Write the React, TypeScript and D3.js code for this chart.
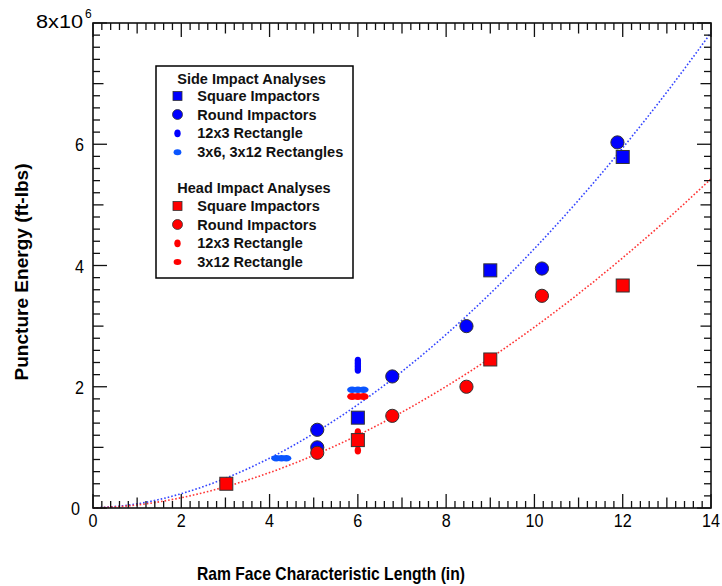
import React from "react";
import * as d3 from "d3";

// ---- Data (values in millions of ft-lbs) ----
const sideSquareX = [6, 9, 12];
const sideSquareY = [1.49, 3.92, 5.79];
const sideRoundX = [5.08, 5.08, 6.78, 8.46, 10.17, 11.88];
const sideRoundY = [1.29, 1.0, 2.17, 3.0, 3.95, 6.03];
const side12x3X = [6, 6, 6, 6];
const side12x3Y = [2.28, 2.33, 2.38, 2.43];
const side3x6X = [4.15, 4.27, 4.38, 5.87, 6.0, 6.13];
const side3x6Y = [0.82, 0.82, 0.82, 1.95, 1.95, 1.95];

const headSquareX = [3.02, 6, 9, 12];
const headSquareY = [0.4, 1.12, 2.45, 3.67];
const headRoundX = [5.08, 6.78, 8.46, 10.17];
const headRoundY = [0.91, 1.52, 2.0, 3.5];
const head12x3X = [6, 6, 6, 6];
const head12x3Y = [0.95, 1.05, 1.15, 1.25];
const head3x12X = [5.87, 6.0, 6.13];
const head3x12Y = [1.84, 1.84, 1.84];

// trend curves
const curveX = [0, 1, 2, 3, 4, 5, 6, 7, 8, 9, 10, 11, 12, 13, 14];
const sideCurveY = [0, 0.068, 0.236, 0.49, 0.822, 1.229, 1.706, 2.251, 2.863, 3.538, 4.278, 5.079, 5.94, 6.86, 7.84];
const headCurveY = [0, 0.05, 0.17, 0.35, 0.584, 0.869, 1.201, 1.581, 2.005, 2.473, 2.983, 3.534, 4.127, 4.758, 5.43];

const xTickLabels = [0, 2, 4, 6, 8, 10, 12, 14];
const yTickLabels = [0, 2, 4, 6];

const BLUE = "#0000ff";
const LBLUE = "#0a55ff";
const RED = "#ff0000";
const FONT = "Liberation Sans, Arial, sans-serif";

export default function App() {
  const left = 93, right = 711, top = 23, bottom = 508;
  const x = d3.scaleLinear().domain([0, 14]).range([left, right]);
  const y = d3.scaleLinear().domain([0, 8]).range([bottom, top]);

  const line = d3
    .line<number>()
    .x((_, i) => x(curveX[i]))
    .y((d) => y(d))
    .curve(d3.curveMonotoneX);

  const tickLen = (v: number) => {
    const r = Math.round(v * 10) / 10;
    if (Math.abs(r % 2) < 1e-6) return 14;
    if (Math.abs(r - Math.round(r)) < 1e-6) return 10.5;
    return 7;
  };

  const xt = x.ticks(70);
  const yt = y.ticks(40);
  const axisColor = "#111";

  const sq = (cx: number, cy: number, s: number, fill: string, key: string) => (
    <rect key={key} x={cx - s / 2} y={cy - s / 2} width={s} height={s} fill={fill} stroke="#333" strokeWidth={1} />
  );
  const circ = (cx: number, cy: number, r: number, fill: string, key: string) => (
    <circle key={key} cx={cx} cy={cy} r={r} fill={fill} stroke="#333" strokeWidth={1} />
  );
  const ell = (cx: number, cy: number, rx: number, ry: number, fill: string, key: string) => (
    <ellipse key={key} cx={cx} cy={cy} rx={rx} ry={ry} fill={fill} />
  );

  const legendRows = [
    { t: "Side Impact Analyses", title: true, yb: 84 },
    { t: "Square Impactors", m: "sq", c: BLUE, yb: 101 },
    { t: "Round Impactors", m: "ci", c: BLUE, yb: 119.5 },
    { t: "12x3 Rectangle", m: "dot", c: BLUE, yb: 138.3 },
    { t: "3x6, 3x12 Rectangles", m: "ell", c: LBLUE, yb: 157.3 },
    { t: "Head Impact Analyses", title: true, yb: 192.7 },
    { t: "Square Impactors", m: "sq", c: RED, yb: 211 },
    { t: "Round Impactors", m: "ci", c: RED, yb: 229.5 },
    { t: "12x3 Rectangle", m: "dot", c: RED, yb: 248.3 },
    { t: "3x12 Rectangle", m: "ell", c: RED, yb: 267 },
  ];

  return (
    <svg width={722} height={586} style={{ position: "absolute", left: 0, top: 0, background: "#fff" }} fontFamily={FONT}>
      <rect width={722} height={586} fill="#fff" />
      {/* curves */}
      <path d={line(sideCurveY) || ""} fill="none" stroke="#3344ff" strokeWidth={1.6} strokeDasharray="1.6,2" />
      <path d={line(headCurveY) || ""} fill="none" stroke="#ff3333" strokeWidth={1.6} strokeDasharray="1.6,2" />

      {/* axes frame */}
      <rect x={left} y={top} width={right - left} height={bottom - top} fill="none" stroke={axisColor} strokeWidth={1.6} />
      {xt.map((v, i) => (
        <g key={"xt" + i}>
          <line x1={x(v)} x2={x(v)} y1={bottom} y2={bottom - tickLen(v)} stroke={axisColor} strokeWidth={1.3} />
          <line x1={x(v)} x2={x(v)} y1={top} y2={top + tickLen(v)} stroke={axisColor} strokeWidth={1.3} />
        </g>
      ))}
      {yt.map((v, i) => (
        <g key={"yt" + i}>
          <line x1={left} x2={left + tickLen(v)} y1={y(v)} y2={y(v)} stroke={axisColor} strokeWidth={1.3} />
          <line x1={right} x2={right - tickLen(v)} y1={y(v)} y2={y(v)} stroke={axisColor} strokeWidth={1.3} />
        </g>
      ))}
      {xTickLabels.map((v) => (
        <text key={"xl" + v} transform={`translate(${x(v)},527) scale(0.85,1)`} textAnchor="middle" fontSize={19} fill="#000">
          {v}
        </text>
      ))}
      {yTickLabels.map((v) => (
        <text key={"yl" + v} transform={`translate(${v === 0 ? 80 : 84},${y(v) + 7}) scale(0.85,1)`} textAnchor="end" fontSize={19} fill="#000">
          {v}
        </text>
      ))}
      <text x={36} y={28} fontSize={18} fill="#000" textLength={47} lengthAdjust="spacingAndGlyphs">
        8x10
      </text>
      <text x={85} y={18} fontSize={12} fill="#000">
        6
      </text>

      {/* axis titles */}
      <text x={331} y={580} textAnchor="middle" fontSize={19} fontWeight="bold" fill="#000" textLength={268} lengthAdjust="spacingAndGlyphs">
        Ram Face Characteristic Length  (in)
      </text>
      <text transform="translate(28,272) rotate(-90)" textAnchor="middle" fontSize={18} fontWeight="bold" fill="#000" textLength={217} lengthAdjust="spacingAndGlyphs">
        Puncture Energy (ft-lbs)
      </text>

      {/* markers */}
      {head3x12X.map((v, i) => ell(x(v), y(head3x12Y[i]), 5, 3.5, RED, "h3" + i))}
      {side3x6X.map((v, i) => ell(x(v), y(side3x6Y[i]), 5, 3.2, LBLUE, "s3" + i))}
      {side12x3X.map((v, i) => ell(x(v), y(side12x3Y[i]), 3.2, 4, BLUE, "s12" + i))}
      {head12x3X.map((v, i) => ell(x(v), y(head12x3Y[i]), 3.2, 4, RED, "h12" + i))}
      {sideSquareX.map((v, i) => sq(x(v), y(sideSquareY[i]), 13, BLUE, "ss" + i))}
      {sideRoundX.map((v, i) => circ(x(v), y(sideRoundY[i]), 6.6, BLUE, "sr" + i))}
      {headSquareX.map((v, i) => sq(x(v), y(headSquareY[i]), 13, RED, "hs" + i))}
      {headRoundX.map((v, i) => circ(x(v), y(headRoundY[i]), 6.6, RED, "hr" + i))}

      {/* legend */}
      <rect x={156} y={66} width={197} height={212} fill="#fff" stroke="#000" strokeWidth={1.5} />
      {legendRows.map((r, i) => {
        const my = r.yb - 5;
        const mx = 177.5;
        let mk: React.ReactNode = null;
        if (r.m === "sq") mk = <rect x={mx - 4.5} y={my - 4.5} width={9} height={9} fill={r.c} stroke="#333" strokeWidth={0.8} />;
        if (r.m === "ci") mk = <circle cx={mx} cy={my} r={5} fill={r.c} stroke="#333" strokeWidth={0.8} />;
        if (r.m === "dot") mk = <ellipse cx={mx} cy={my} rx={3.2} ry={3.9} fill={r.c} />;
        if (r.m === "ell") mk = <ellipse cx={mx} cy={my} rx={3.9} ry={3} fill={r.c} />;
        return (
          <g key={"lg" + i}>
            {mk}
            <text x={r.title ? 177.3 : 197.3} y={r.yb} fontSize={14.5} fontWeight="bold" fill="#111">
              {r.t}
            </text>
          </g>
        );
      })}
    </svg>
  );
}
